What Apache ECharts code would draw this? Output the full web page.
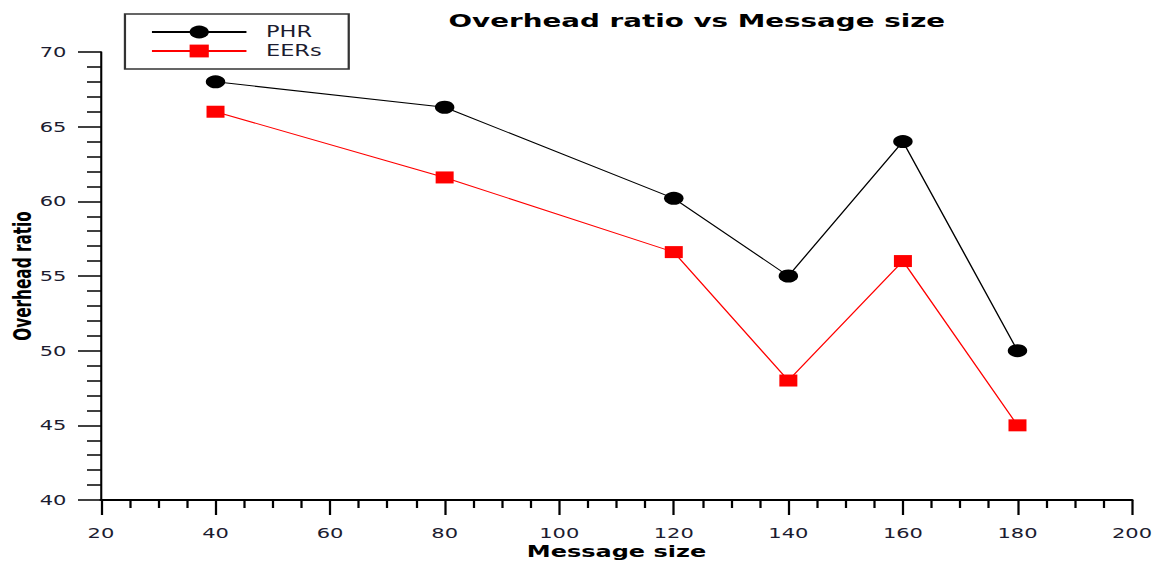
<!DOCTYPE html>
<html><head><meta charset="utf-8">
<script src="https://cdn.jsdelivr.net/npm/echarts@6/dist/echarts.min.js"></script>
<style>
html,body{margin:0;padding:0;background:#fff;overflow:hidden}
#wrap{width:1158px;height:564px;overflow:hidden}
#c{width:772px;height:564px;transform:scaleX(1.5);transform-origin:0 0}
</style>
</head><body><div id="wrap"><div id="c"></div></div>
<script>
const messageSize = [40, 80, 120, 140, 160, 180];
const phr = [68, 66.3, 60.2, 55, 64, 50];
const eers = [66, 61.6, 56.6, 48, 56, 45];
const seriesNames = ['PHR', 'EERs'];
const titleText = 'Overhead ratio vs Message size';
const xName = 'Message size';
const yName = 'Overhead ratio';

const chart = echarts.init(document.getElementById('c'), null, {renderer: 'svg'});
const lab = {fontFamily: 'DejaVu Sans', fontSize: 14, color: '#1c1c30'};
chart.setOption({
  animation: false,
  backgroundColor: '#fff',
  title: {
    text: titleText, left: 299, top: 11, padding: 0,
    textStyle: {fontFamily: 'DejaVu Sans', fontWeight: 'bold', fontSize: 18.5, color: '#000'}
  },
  legend: {
    left: 83.3, top: 14, orient: 'vertical',
    padding: [10, 18, 10, 17],
    itemWidth: 63, itemHeight: 16, itemGap: 3,
    borderColor: '#333', borderWidth: 1.5, borderRadius: 0,
    textStyle: {fontFamily: 'DejaVu Sans', fontSize: 15, color: '#1c1c30', lineHeight: 16, padding: [0, 0, 0, 8]},
    data: seriesNames
  },
  grid: {left: 67.3, right: 17.3, top: 52, bottom: 64, containLabel: false, outerBoundsMode: 'none'},
  xAxis: {
    type: 'value', min: 20, max: 200, interval: 20,
    name: xName, nameLocation: 'middle', nameGap: 44, nameMoveOverlap: false,
    nameTextStyle: {fontFamily: 'DejaVu Sans', fontWeight: 'bold', fontSize: 16, color: '#000'},
    axisLine: {lineStyle: {color: '#000', width: 2}},
    axisTick: {show: true, length: 15, lineStyle: {color: '#000', width: 1.5}},
    minorTick: {show: true, splitNumber: 4, length: 8, lineStyle: {color: '#000', width: 1.5}},
    axisLabel: Object.assign({margin: 26}, lab),
    splitLine: {show: false}
  },
  yAxis: {
    type: 'value', min: 40, max: 70, interval: 5,
    name: yName, nameLocation: 'middle', nameGap: 44, nameRotate: 90, nameMoveOverlap: false,
    nameTextStyle: {fontFamily: 'DejaVu Sans Condensed', fontWeight: 'bold', fontSize: 17, color: '#000'},
    axisLine: {show: true, lineStyle: {color: '#000', width: 1.4}},
    axisTick: {show: true, length: 15.3, lineStyle: {color: '#000', width: 1.5}},
    minorTick: {show: true, splitNumber: 5, length: 9.3, lineStyle: {color: '#000', width: 1.5}},
    axisLabel: Object.assign({margin: 23}, lab),
    splitLine: {show: false}
  },
  series: [
    {
      name: seriesNames[0], type: 'line',
      data: messageSize.map((x, i) => [x, phr[i]]),
      symbol: 'circle', symbolSize: 13,
      lineStyle: {color: '#000', width: 1},
      itemStyle: {color: '#000'}
    },
    {
      name: seriesNames[1], type: 'line',
      data: messageSize.map((x, i) => [x, eers[i]]),
      symbol: 'rect', symbolSize: 12,
      lineStyle: {color: '#ff0000', width: 1},
      itemStyle: {color: '#ff0000'}
    }
  ]
});
</script>
</body></html>
